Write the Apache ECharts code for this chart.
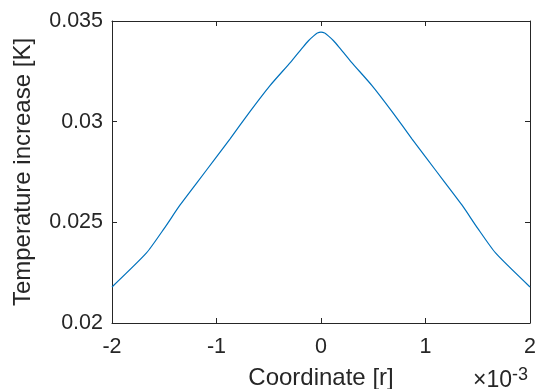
<!DOCTYPE html>
<html>
<head>
<meta charset="utf-8">
<script src="https://cdn.jsdelivr.net/npm/echarts@6/dist/echarts.min.js"></script>
<style>
  html, body { margin: 0; padding: 0; background: #fff; }
  #chart { width: 536px; height: 389px; }
</style>
</head>
<body>
<div id="chart"></div>
<script>
// Coordinate in units of 1e-3 (axis shows x10^-3 multiplier)
const xCoord = [-2, -1.67, -1.5, -1.35, -1.19, -1.0, -0.87, -0.68, -0.49, -0.29, -0.17, -0.12, -0.07, -0.035, 0,
                0.035, 0.07, 0.12, 0.17, 0.29, 0.49, 0.68, 0.87, 1.0, 1.19, 1.35, 1.5, 1.67, 2];
const tempRise = [0.02179, 0.02348, 0.02470, 0.02585, 0.02695, 0.02825, 0.02915, 0.0305, 0.03178, 0.03296, 0.03372, 0.03402, 0.03426, 0.03440, 0.03445,
                  0.03440, 0.03426, 0.03402, 0.03372, 0.03296, 0.03178, 0.0305, 0.02915, 0.02825, 0.02695, 0.02585, 0.02470, 0.02348, 0.02179];
const xTicks = [-2, -1, 0, 1, 2];
const yTicks = [0.02, 0.025, 0.03, 0.035];

const axisColor = "#262626";
const font = "'Liberation Sans', Arial, sans-serif";

const chart = echarts.init(document.getElementById("chart"));

const tickStyle = { inside: true, length: 5, lineStyle: { color: axisColor, width: 1 } };
const boxLine = { show: true, onZero: false, lineStyle: { color: axisColor, width: 1 } };

chart.setOption({
    animation: false,
    grid: { left: 112, right: 6, top: 21, bottom: 66, outerBoundsMode: "none" },
    xAxis: [
        {
            type: "value",
            min: -2,
            max: 2,
            interval: 1,
            axisLine: boxLine,
            axisTick: tickStyle,
            splitLine: { show: false },
            axisLabel: {
                color: axisColor,
                fontFamily: font,
                fontSize: 21.5,
                margin: 13,
                formatter: (v) => (xTicks.includes(v) ? String(v) : ""),
            },
            name: "Coordinate [r]",
            nameLocation: "middle",
            nameGap: 43,
            nameTextStyle: { color: axisColor, fontFamily: font, fontSize: 24 },
        },
        {
            type: "value",
            position: "top",
            min: -2,
            max: 2,
            interval: 1,
            axisLine: boxLine,
            axisTick: tickStyle,
            axisLabel: { show: false },
            splitLine: { show: false },
        },
    ],
    yAxis: [
        {
            type: "value",
            min: 0.02,
            max: 0.035,
            interval: 0.005,
            axisLine: boxLine,
            axisTick: tickStyle,
            splitLine: { show: false },
            axisLabel: {
                color: axisColor,
                fontFamily: font,
                fontSize: 21.5,
                margin: 9,
                formatter: (v) => {
                    const t = yTicks.find((y) => Math.abs(y - v) < 1e-9);
                    return t === undefined ? "" : String(t);
                },
            },
            name: "Temperature increase [K]",
            nameLocation: "middle",
            nameGap: 77,
            nameTextStyle: { color: axisColor, fontFamily: font, fontSize: 24 },
        },
        {
            type: "value",
            position: "right",
            min: 0.02,
            max: 0.035,
            interval: 0.005,
            axisLine: boxLine,
            axisTick: tickStyle,
            axisLabel: { show: false },
            splitLine: { show: false },
        },
    ],
    graphic: [
        {
            type: "text",
            right: 8,
            top: 366,
            style: {
                text: "×10{sup|-3}",
                fill: axisColor,
                font: "23px " + font,
                rich: {
                    sup: { fontSize: 18, fontFamily: font, color: axisColor, verticalAlign: "top", padding: [0, 0, 12, 0] },
                },
            },
        },
    ],
    series: [
        {
            type: "line",
            xAxisIndex: 0,
            yAxisIndex: 0,
            data: xCoord.map((x, i) => [x, tempRise[i]]),
            showSymbol: false,
            smooth: 0.2,
            lineStyle: { color: "#0072BD", width: 1.2 },
            itemStyle: { color: "#0072BD" },
        },
    ],
});
</script>
</body>
</html>
